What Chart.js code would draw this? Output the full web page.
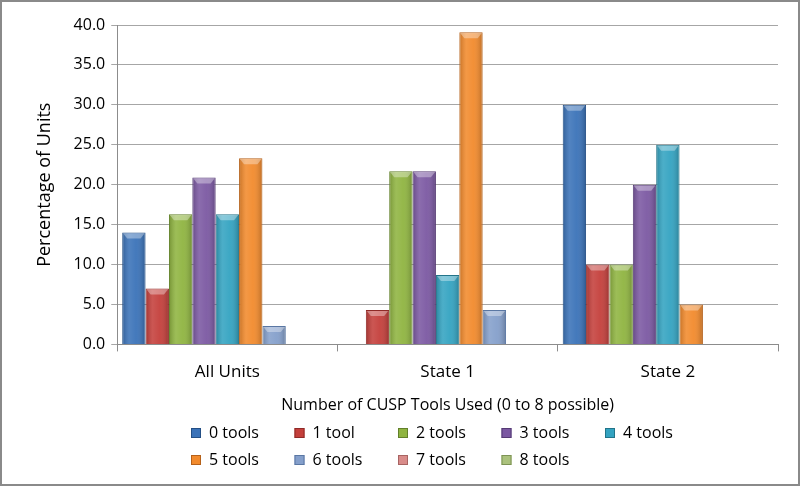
<!DOCTYPE html>
<html>
<head>
<meta charset="utf-8">
<script src="https://cdn.jsdelivr.net/npm/chart.js@4.4.1/dist/chart.umd.min.js"></script>
<style>
  html, body { margin: 0; padding: 0; background: #fff; }
  #wrap { width: 800px; height: 486px; box-sizing: border-box; border: 2px solid #8a8a8a; position: relative; }
  canvas { display: block; }
</style>
</head>
<body>
<div id="wrap"><canvas id="chart" width="796" height="482"></canvas></div>
<script>
const categories = ["All Units", "State 1", "State 2"];
const seriesNames = ["0 tools", "1 tool", "2 tools", "3 tools", "4 tools", "5 tools", "6 tools", "7 tools", "8 tools"];
const tools0 = [14.0, 0, 30.0];
const tools1 = [7.0, 4.3, 10.0];
const tools2 = [16.3, 21.7, 10.0];
const tools3 = [20.9, 21.7, 20.0];
const tools4 = [16.3, 8.7, 25.0];
const tools5 = [23.3, 39.1, 5.0];
const tools6 = [2.3, 4.3, 0];
const tools7 = [0, 0, 0];
const tools8 = [0, 0, 0];
const seriesValues = [tools0, tools1, tools2, tools3, tools4, tools5, tools6, tools7, tools8];

const fills = ["#3a72b8", "#c43f3b", "#8fb440", "#7b58a2", "#33a3c1", "#f28a2c", "#849fcb", "#d98c8a", "#abc27d"];
const edges = ["#244f85", "#8e2a27", "#62802a", "#553a74", "#227489", "#b5611a", "#5a77a3", "#a86462", "#7d9355"];

const FONT = "'Open Sans', 'Liberation Sans', sans-serif";

// soft bevel shading on each bar, like the office 3d look
const bevel = {
  id: "bevel",
  afterDatasetsDraw(chart) {
    const c = chart.ctx;
    c.save();
    chart.data.datasets.forEach((ds, i) => {
      chart.getDatasetMeta(i).data.forEach(bar => {
        const h = bar.base - bar.y;
        if (h < 1) return;
        const l = bar.x - bar.width / 2, r = bar.x + bar.width / 2;
        const g = c.createLinearGradient(l, 0, r, 0);
        g.addColorStop(0, "rgba(0,0,0,0.18)");
        g.addColorStop(0.3, "rgba(255,255,255,0.12)");
        g.addColorStop(0.6, "rgba(255,255,255,0.05)");
        g.addColorStop(1, "rgba(0,0,0,0.22)");
        c.fillStyle = g;
        c.fillRect(l + 1, bar.y + 1, bar.width - 2, h - 1);
        // top cap
        const cap = Math.min(6, h / 2);
        c.beginPath();
        c.moveTo(l + 1, bar.y + 1);
        c.lineTo(r - 1, bar.y + 1);
        c.lineTo(r - 5, bar.y + cap);
        c.lineTo(l + 5, bar.y + cap);
        c.closePath();
        c.fillStyle = "rgba(255,255,255,0.35)";
        c.fill();
      });
    });
    c.restore();
  }
};

// legend drawn in a fixed grid like the original
const gridLegend = {
  id: "gridLegend",
  afterDraw(chart) {
    const c = chart.ctx;
    c.save();
    c.font = "16px " + FONT;
    c.textBaseline = "middle";
    chart.data.datasets.forEach((ds, i) => {
      const col = i % 5, row = Math.floor(i / 5);
      const x = 189 + col * 103.5;
      const y = 431 + row * 27;
      c.fillStyle = ds.backgroundColor;
      c.fillRect(x, y - 5, 10, 10);
      c.strokeStyle = ds.borderColor;
      c.lineWidth = 1;
      c.strokeRect(x + 0.5, y - 4.5, 9, 9);
      c.fillStyle = "#000";
      c.fillText(ds.label, x + 18, y);
    });
    c.restore();
  }
};

new Chart(document.getElementById("chart"), {
  type: "bar",
  data: {
    labels: categories,
    datasets: seriesNames.map((name, i) => ({
      label: name,
      data: seriesValues[i],
      backgroundColor: fills[i],
      borderColor: edges[i],
      borderWidth: 1,
      barPercentage: 1.0,
      categoryPercentage: 0.955
    }))
  },
  options: {
    responsive: false,
    animation: false,
    layout: { padding: { top: 23, right: 20, bottom: 69, left: 28 } },
    plugins: { legend: { display: false }, tooltip: { enabled: false } },
    scales: {
      x: {
        grid: { offset: true, drawOnChartArea: false, color: "#8c8c8c", tickLength: 7 },
        border: { color: "#8c8c8c" },
        ticks: { color: "#000", font: { family: FONT, size: 17 }, padding: 11 },
        title: { display: true, text: "Number of CUSP Tools Used (0 to 8 possible)", color: "#000", font: { family: FONT, size: 16 }, padding: { top: 2, bottom: 0 } }
      },
      y: {
        min: 0, max: 40,
        ticks: { stepSize: 5, color: "#000", font: { family: FONT, size: 16 }, padding: 6, callback: v => v.toFixed(1) },
        grid: { color: "#a6a6a6", tickLength: 6 },
        border: { color: "#8c8c8c" },
        title: { display: true, text: "Percentage of Units", color: "#000", font: { family: FONT, size: 18 }, padding: { bottom: 12 } }
      }
    }
  },
  plugins: [bevel, gridLegend]
});
</script>
</body>
</html>
